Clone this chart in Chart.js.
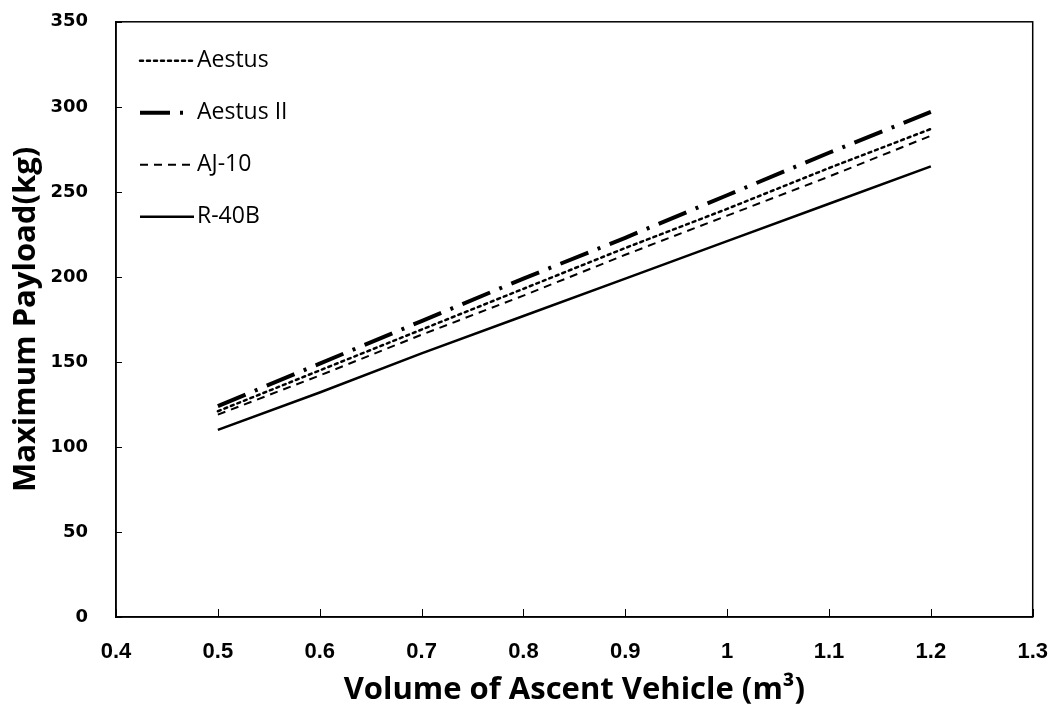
<!DOCTYPE html>
<html>
<head>
<meta charset="utf-8">
<script src="https://cdn.jsdelivr.net/npm/chart.js@4"></script>
<style>
html,body{margin:0;padding:0;background:#fff;overflow:hidden;}
#wrap{width:1055px;height:713px;position:relative;overflow:hidden;}
#c{position:absolute;left:0;top:-17px;}
</style>
</head>
<body>
<div id="wrap"><canvas id="c" width="1070" height="730"></canvas></div>
<script>
const volumes = [0.5, 0.6, 0.7, 0.8, 0.9, 1.0, 1.1, 1.2];
const seriesNames = ["Aestus", "Aestus II", "AJ-10", "R-40B"];
const aestus   = [121, 145, 169, 193, 217, 240, 264, 287];
const aestusII = [124, 149, 174, 199, 223, 248, 273, 297];
const aj10     = [119, 142, 166, 189, 213, 236, 259, 283];
const r40b     = [110, 132, 155, 177, 199, 221, 243, 265];
const xTicks = [0.4, 0.5, 0.6, 0.7, 0.8, 0.9, 1.0, 1.1, 1.2, 1.3];
const yTicks = [0, 50, 100, 150, 200, 250, 300, 350];

const styles = [
  {borderDash:[3,4], borderWidth:2.5, capStyle:'round'},
  {borderDash:[30,10,3,10], borderWidth:4, capStyle:'butt'},
  {borderDash:[8,6], borderWidth:2, capStyle:'butt'},
  {borderDash:[], borderWidth:2.5, capStyle:'butt'}
];
const values = [aestus, aestusII, aj10, r40b];

const datasets = seriesNames.map((n,i)=>({
  label:n,
  data: volumes.map((v,j)=>({x:v, y:values[i][j]})),
  borderColor:'#000',
  backgroundColor:'#000',
  borderWidth:styles[i].borderWidth,
  borderDash:styles[i].borderDash,
  borderCapStyle:styles[i].capStyle,
  pointRadius:0,
  tension:0,
  fill:false
}));

const frame = {
  id:'frame',
  afterDraw(chart){
    const ctx = chart.ctx, a = chart.chartArea;
    ctx.save();
    ctx.strokeStyle = '#000';
    ctx.lineWidth = 1.5;
    ctx.setLineDash([]);
    ctx.strokeRect(a.left, a.top, a.right - a.left, a.bottom - a.top);
    ctx.lineWidth = 1;
    const xs = chart.scales.x, ys = chart.scales.y;
    xTicks.forEach(t=>{
      const px = Math.round(xs.getPixelForValue(t)) + 0.5;
      ctx.beginPath(); ctx.moveTo(px, a.bottom); ctx.lineTo(px, a.bottom - 8); ctx.stroke();
    });
    yTicks.forEach(t=>{
      const py = Math.round(ys.getPixelForValue(t)) + 0.5;
      ctx.beginPath(); ctx.moveTo(a.left, py); ctx.lineTo(a.left + 6, py); ctx.stroke();
    });
    // legend
    ctx.font = '23px "Open Sans", "Liberation Sans", sans-serif';
    ctx.textBaseline = 'middle';
    ctx.fillStyle = '#000';
    chart.data.datasets.forEach((d,i)=>{
      const y = a.top + 39 + i*52;
      ctx.save();
      ctx.strokeStyle = '#000';
      ctx.lineWidth = d.borderWidth;
      ctx.lineCap = d.borderCapStyle;
      ctx.setLineDash(d.borderDash);
      const end = d.borderDash.length === 4 ? 188 : 194;
      ctx.beginPath(); ctx.moveTo(140, y); ctx.lineTo(end, y); ctx.stroke();
      ctx.restore();
      ctx.fillText(d.label, 197, y);
    });
    ctx.restore();
  }
};

new Chart(document.getElementById('c'), {
  type:'line',
  data:{datasets},
  options:{
    responsive:false,
    animation:false,
    layout:{padding:{left:0, top:4, right:7, bottom:0}},
    plugins:{legend:{display:false}, tooltip:{enabled:false}},
    scales:{
      x:{
        type:'linear', min:0.4, max:1.3,
        afterBuildTicks(s){ s.ticks = xTicks.map(v=>({value:v})); },
        afterFit(s){ s.height = 96; },
        grid:{display:false, drawTicks:false},
        border:{display:true, color:'#000', width:1.5},
        ticks:{
          color:'#000', padding:22,
          font:{family:'"Liberation Sans Narrow", "Liberation Sans", sans-serif', size:22, weight:'bold'},
          callback:(v)=> String(Math.round(v*10)/10)
        },
        title:{display:true, text:'Volume of Ascent Vehicle (m³)', color:'#000',
          font:{family:'"Open Sans", "Liberation Sans", sans-serif', size:31, weight:'bold'}, padding:{top:2}}
      },
      y:{
        type:'linear', min:0, max:350,
        afterBuildTicks(s){ s.ticks = yTicks.map(v=>({value:v})); },
        afterFit(s){ s.width = 116; },
        grid:{display:false, drawTicks:false},
        border:{display:true, color:'#000', width:1.5},
        ticks:{
          color:'#000', padding:28,
          font:{family:'"DejaVu Sans", sans-serif', size:18, weight:'bold'}
        },
        title:{display:true, text:'Maximum Payload(kg)', color:'#000',
          font:{family:'"Open Sans", "Liberation Sans", sans-serif', size:31, weight:'bold'}, padding:{top:8, bottom:0}}
      }
    }
  },
  plugins:[frame]
});
</script>
</body>
</html>
